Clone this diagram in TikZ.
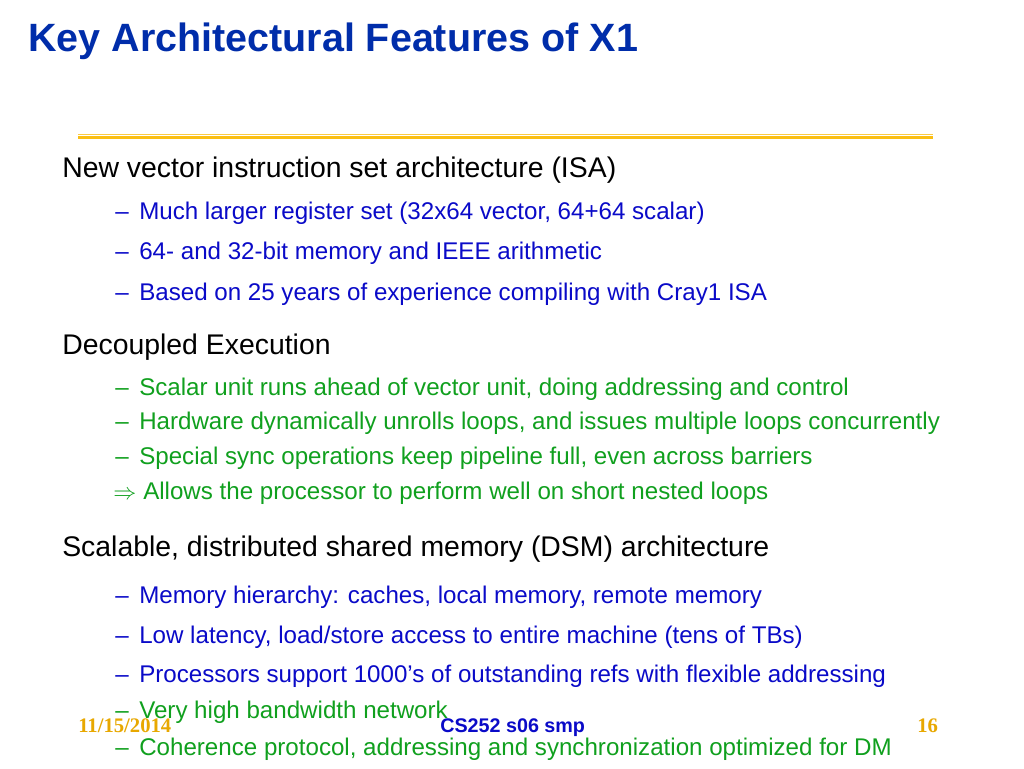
\documentclass[tikz,border=0pt]{standalone}
\usepackage{fontspec}
\setmainfont{Liberation Sans}
\newfontfamily\timesfont{Liberation Serif}
\usepackage{xcolor}
\definecolor{titleblue}{RGB}{0,45,170}
\definecolor{itemblue}{RGB}{10,10,200}
\definecolor{itemgreen}{RGB}{16,160,30}
\definecolor{rulegold}{RGB}{250,190,20}
\definecolor{dateorange}{RGB}{232,168,0}

\begin{document}
\begin{tikzpicture}[x=0.75pt,y=0.75pt,yscale=-1,xscale=1,
	slidetitle/.style={anchor=base west,inner sep=0pt,font=\fontsize{29.6}{34}\selectfont\bfseries,text=titleblue},
	lvlone/.style={anchor=base west,inner sep=0pt,font=\fontsize{21.3}{25}\selectfont,text=black},
	lvltwo/.style={anchor=base west,inner sep=0pt,font=\fontsize{18.1}{22}\selectfont},
	footdate/.style={anchor=base west,inner sep=0pt,font=\fontsize{15.5}{18}\selectfont\timesfont\bfseries,text=dateorange}]
		\useasboundingbox (0,0) rectangle (1024,768);
		\fill[white] (0,0) rectangle (1024,768);

		% Text Node
		\node (title) at (28,51) [slidetitle] {Key Architectural Features of X1};
		%Straight Lines
		\coordinate (ruleL) at (78,134.6);
		\coordinate (ruleR) at (933,134.6);
		\coordinate (ruleLb) at (78,137.6);
		\coordinate (ruleRb) at (933,137.6);
		\draw [rulegold!80, line width=0.8pt] (ruleL) -- (ruleR);
		\draw [rulegold, line width=2.3pt] (ruleLb) -- (ruleRb);

		% Text Node
		\node (isa) at (62,177) [lvlone] {New vector instruction set architecture (ISA)};
		% Text Node
		\node (isaregs) at (115,219) [lvltwo,text=itemblue] {\makebox[18pt][l]{–}Much larger register set (32x64 vector, 64+64 scalar)};
		% Text Node
		\node (isamem) at (115,259) [lvltwo,text=itemblue] {\makebox[18pt][l]{–}64- and 32-bit memory and IEEE arithmetic};
		% Text Node
		\node (isacray) at (115,300) [lvltwo,text=itemblue] {\makebox[18pt][l]{–}Based on 25 years of experience compiling with Cray1 ISA};

		% Text Node
		\node (dec) at (62,354) [lvlone] {Decoupled Execution};
		% Text Node
		\node (decscalar) at (115,395) [lvltwo,text=itemgreen] {\makebox[18pt][l]{–}Scalar unit runs ahead of vector unit, doing addressing and control};
		% Text Node
		\node (decunroll) at (115,429) [lvltwo,text=itemgreen] {\makebox[18pt][l]{–}Hardware dynamically unrolls loops, and issues multiple loops concurrently};
		% Text Node
		\node (decsync) at (115,464) [lvltwo,text=itemgreen] {\makebox[18pt][l]{–}Special sync operations keep pipeline full, even across barriers};
		% Text Node
		\node (decloops) at (113,499) [lvltwo,text=itemgreen] {\makebox[22.5pt][l]{$\Rightarrow$}Allows the processor to perform well on short nested loops};

		% Text Node
		\node (dsm) at (62,556) [lvlone] {Scalable, distributed shared memory (DSM) architecture};
		% Text Node
		\node (dsmhier) at (115,603) [lvltwo,text=itemblue] {\makebox[18pt][l]{–}Memory hierarchy: caches, local memory, remote memory};
		% Text Node
		\node (dsmlat) at (115,643) [lvltwo,text=itemblue] {\makebox[18pt][l]{–}Low latency, load/store access to entire machine (tens of TBs)};
		% Text Node
		\node (dsmrefs) at (115,682) [lvltwo,text=itemblue] {\makebox[18pt][l]{–}Processors support 1000’s of outstanding refs with flexible addressing};
		% Text Node
		\node (dsmnet) at (115,718) [lvltwo,text=itemgreen] {\makebox[18pt][l]{–}Very high bandwidth network};
		% Text Node
		\node (dsmcoh) at (115,755) [lvltwo,text=itemgreen] {\makebox[18pt][l]{–}Coherence protocol, addressing and synchronization optimized for DM};

		% Text Node
		\node (date) at (78,732) [footdate] {11/15/2014};
		% Text Node
		\node (course) at (440,732) [anchor=base west,inner sep=0pt,font=\fontsize{14.8}{17}\selectfont\bfseries,text=itemblue] {CS252 s06 smp};
		% Text Node
		\node (page) at (917,732) [footdate] {16};

\end{tikzpicture}
\end{document}
